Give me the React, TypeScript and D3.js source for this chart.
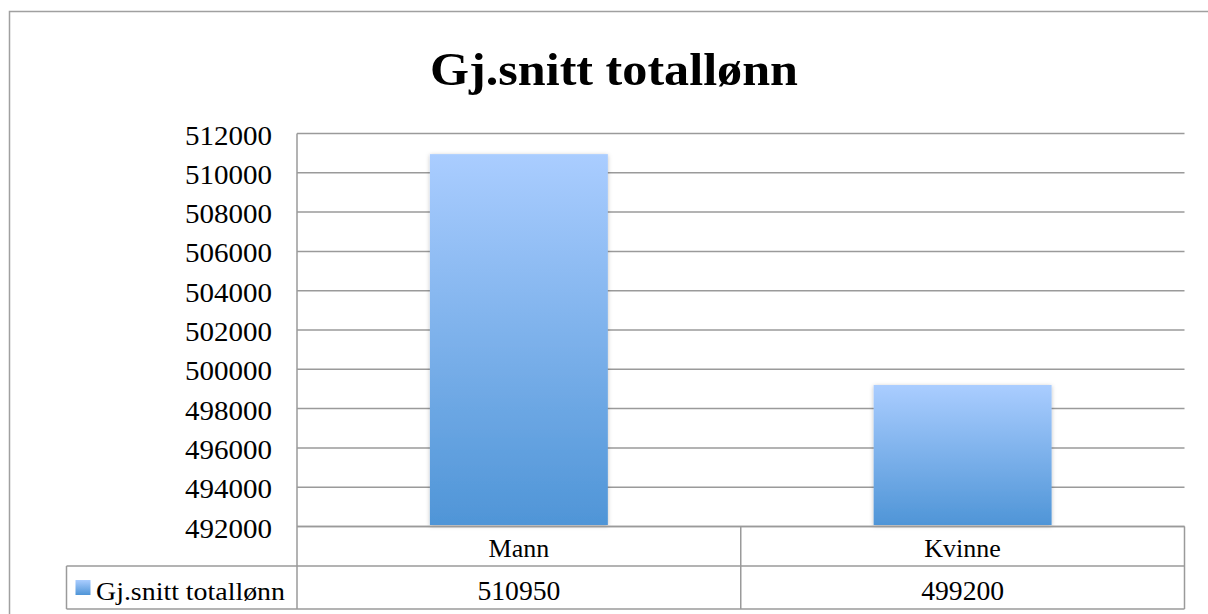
import React from "react";
import * as d3 from "d3";

const categories: string[] = ["Mann", "Kvinne"];
const values: number[] = [510950, 499200];
const seriesName = "Gj.snitt totallønn";
const title = "Gj.snitt totallønn";
const yTicks: number[] = [492000, 494000, 496000, 498000, 500000, 502000, 504000, 506000, 508000, 510000, 512000];

const W = 1208;
const H = 614;
const plotLeft = 297;
const plotRight = 1184.5;
const plotTop = 133.5;
const plotBottom = 526.5;
const row1Bottom = 566;
const tableBottom = 609;
const legendLeft = 66.5;
const FONT = "'Liberation Serif', 'DejaVu Serif', serif";
const GRID = "#9a9a9a";

export default function App() {
  const y = d3.scaleLinear().domain([492000, 512000]).range([plotBottom, plotTop]);
  const x = d3.scaleBand<string>().domain(categories).range([plotLeft, plotRight]).padding(0);
  const bw = x.bandwidth() * 0.401;

  return (
    <svg width={W} height={H} style={{ position: "absolute", left: 0, top: 0, background: "#fff" }}>
      <defs>
        <linearGradient id="barGrad" x1="0" y1="0" x2="0" y2="1">
          <stop offset="0%" stopColor="#aacdff" />
          <stop offset="100%" stopColor="#4f95d7" />
        </linearGradient>
        <filter id="shadow" x="-10%" y="-10%" width="120%" height="120%">
          <feDropShadow dx="0" dy="1" stdDeviation="2" floodColor="#000" floodOpacity="0.25" />
        </filter>
      </defs>
      <rect x={0} y={0} width={W} height={H} fill="#fff" />
      <rect x={9.5} y={11.5} width={W} height={H} fill="none" stroke="#a0a0a0" strokeWidth={1.5} />

      <text x={614} y={85} textAnchor="middle" fontFamily={FONT} fontWeight="bold" fontSize={46}
        textLength={368} lengthAdjust="spacingAndGlyphs" fill="#000">{title}</text>

      {yTicks.map((t) => (
        <line key={t} x1={plotLeft} x2={plotRight} y1={y(t)} y2={y(t)} stroke={GRID} strokeWidth={1.5} />
      ))}
      {yTicks.map((t) => (
        <text key={"l" + t} x={272} y={y(t) + 11} textAnchor="end" fontFamily={FONT} fontSize={28}
          textLength={87} lengthAdjust="spacingAndGlyphs" fill="#000">{t}</text>
      ))}

      {categories.map((c, i) => {
        const cx = (x(c) as number) + x.bandwidth() / 2;
        return (
          <rect key={c} x={cx - bw / 2} y={y(values[i])} width={bw} height={plotBottom - 1.5 - y(values[i])}
            fill="url(#barGrad)" filter="url(#shadow)" />
        );
      })}

      <g stroke={GRID} strokeWidth={1.5} fill="none">
        <line x1={plotLeft} x2={plotLeft} y1={plotTop} y2={tableBottom} />
        <line x1={plotLeft} x2={plotRight} y1={plotBottom} y2={plotBottom} />
        <line x1={plotRight} x2={plotRight} y1={plotBottom} y2={tableBottom} />
        <line x1={legendLeft} x2={plotRight} y1={row1Bottom} y2={row1Bottom} />
        <line x1={legendLeft} x2={plotRight} y1={tableBottom} y2={tableBottom} />
        <line x1={legendLeft} x2={legendLeft} y1={row1Bottom} y2={tableBottom} />
        {categories.slice(1).map((c) => (
          <line key={c} x1={x(c) as number} x2={x(c) as number} y1={plotBottom} y2={tableBottom} />
        ))}
      </g>
      {categories.map((c, i) => {
        const cx = (x(c) as number) + x.bandwidth() / 2;
        return (
          <g key={"t" + c}>
            <text x={cx} y={556.5} textAnchor="middle" fontFamily={FONT} fontSize={26} fill="#000">{c}</text>
            <text x={cx} y={599.5} textAnchor="middle" fontFamily={FONT} fontSize={27}
              textLength={83} lengthAdjust="spacingAndGlyphs" fill="#000">{values[i]}</text>
          </g>
        );
      })}
      <rect x={75.5} y={580} width={15} height={15} fill="url(#barGrad)" />
      <text x={96} y={599.5} fontFamily={FONT} fontSize={26}
        textLength={189} lengthAdjust="spacingAndGlyphs" fill="#000">{seriesName}</text>
    </svg>
  );
}
